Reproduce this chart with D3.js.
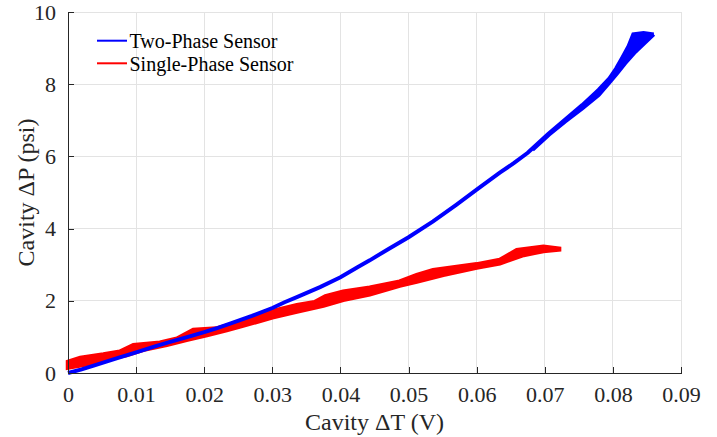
<!DOCTYPE html>
<html>
<head>
<meta charset="utf-8">
<script src="https://cdn.jsdelivr.net/npm/d3@7"></script>
<style>
  body { margin: 0; background: #fff; }
  text { font-family: "Liberation Serif", "Times New Roman", serif; }
</style>
</head>
<body>
<svg id="chart" width="717" height="437"></svg>
<script>
// Axis ticks
const xTicks = [0, 0.01, 0.02, 0.03, 0.04, 0.05, 0.06, 0.07, 0.08, 0.09];
const yTicks = [0, 2, 4, 6, 8, 10];
const xTickLabels = ["0", "0.01", "0.02", "0.03", "0.04", "0.05", "0.06", "0.07", "0.08", "0.09"];
const yTickLabels = ["0", "2", "4", "6", "8", "10"];

const seriesNames = ["Two-Phase Sensor", "Single-Phase Sensor"];
const seriesColors = ["#0000ff", "#ff0000"];

// Two-phase sensor: loading trace (cavity ΔT in V, cavity ΔP in psi)
const twoPhaseRiseDT = [0, 0.002, 0.004, 0.007, 0.010, 0.013, 0.015, 0.018, 0.020, 0.022, 0.024, 0.027, 0.030, 0.0318,
  0.0336, 0.037, 0.040, 0.0425, 0.0443, 0.047, 0.050, 0.0536, 0.057, 0.060, 0.0634, 0.0655, 0.0675,
  0.0705, 0.0730, 0.0755, 0.0779, 0.0795, 0.0805, 0.0814, 0.0823, 0.0830, 0.0845, 0.0860];
const twoPhaseRiseDP = [0.00, 0.10, 0.22, 0.40, 0.57, 0.75, 0.86, 1.02, 1.13, 1.25, 1.38, 1.58, 1.80, 1.96,
  2.10, 2.38, 2.65, 2.93, 3.12, 3.43, 3.76, 4.20, 4.66, 5.08, 5.55, 5.82, 6.10,
  6.62, 7.02, 7.42, 7.84, 8.16, 8.44, 8.74, 9.05, 9.38, 9.42, 9.38];
// Two-phase sensor: unloading trace back down from the peak
const twoPhaseFallDT = [0.0860, 0.0848, 0.0833, 0.0818, 0.0806, 0.0794, 0.0779, 0.0755, 0.0730, 0.0706, 0.0682];
const twoPhaseFallDP = [9.38, 9.17, 8.90, 8.58, 8.30, 8.03, 7.70, 7.33, 6.97, 6.60, 6.18];

// Single-phase sensor: upper and lower traces of the hysteresis band
const singlePhaseUpperDT = [0, 0.0018, 0.0052, 0.0076, 0.0096, 0.0135, 0.016, 0.0184, 0.0218, 0.0253, 0.030, 0.0336,
  0.0362, 0.0378, 0.0404, 0.0443, 0.0487, 0.0512, 0.0536, 0.060, 0.0634, 0.0659, 0.0698, 0.0721];
const singlePhaseUpperDP = [0.31, 0.42, 0.51, 0.59, 0.77, 0.84, 0.95, 1.19, 1.23, 1.42, 1.71, 1.88,
  1.96, 2.12, 2.25, 2.36, 2.53, 2.71, 2.85, 3.01, 3.13, 3.40, 3.50, 3.44];
const singlePhaseLowerDT = [0, 0.0027, 0.0062, 0.0086, 0.011, 0.0145, 0.0174, 0.0204, 0.0233, 0.0253, 0.030, 0.0336,
  0.0375, 0.0404, 0.0443, 0.0487, 0.0512, 0.0551, 0.060, 0.0634, 0.0669, 0.0698, 0.0721];
const singlePhaseLowerDP = [0.15, 0.24, 0.41, 0.50, 0.64, 0.78, 0.92, 1.05, 1.19, 1.29, 1.54, 1.70,
  1.87, 2.03, 2.18, 2.42, 2.53, 2.72, 2.92, 3.04, 3.27, 3.38, 3.42];

const zip = (xs, ys) => xs.map((x, i) => [x, ys[i]]);

const svg = d3.select("#chart");
const margin = { left: 68, top: 12, right: 36, bottom: 64 };
const W = 717, H = 437;
const x = d3.scaleLinear().domain([0, 0.09]).range([margin.left, W - margin.right]);
const y = d3.scaleLinear().domain([0, 10]).range([H - margin.bottom, margin.top]);

const axisColor = "#262626";
const gridColor = "#e3e3e3";

// Grid
const grid = svg.append("g").attr("shape-rendering", "crispEdges");
grid.selectAll("line.gx").data(xTicks).join("line")
  .attr("x1", d => x(d)).attr("x2", d => x(d))
  .attr("y1", y(0)).attr("y2", y(10))
  .attr("stroke", gridColor).attr("stroke-width", 1);
grid.selectAll("line.gy").data(yTicks).join("line")
  .attr("x1", x(0)).attr("x2", x(0.09))
  .attr("y1", d => y(d)).attr("y2", d => y(d))
  .attr("stroke", gridColor).attr("stroke-width", 1);

// Data
const line = d3.line().x(d => x(d[0])).y(d => y(d[1]));
const plot = svg.append("g");

// Single-phase band: upper trace out, lower trace back
const redPts = zip(singlePhaseUpperDT, singlePhaseUpperDP)
  .concat(zip(singlePhaseLowerDT, singlePhaseLowerDP).reverse());
plot.append("path")
  .attr("d", line(redPts) + "Z")
  .attr("fill", seriesColors[1])
  .attr("stroke", seriesColors[1])
  .attr("stroke-width", 4.5)
  .attr("stroke-linejoin", "miter");

// Two-phase traces
const rise = zip(twoPhaseRiseDT, twoPhaseRiseDP);
const fall = zip(twoPhaseFallDT, twoPhaseFallDP);
const wedge = rise.filter(d => d[0] >= 0.0675).concat(fall.slice(1));
plot.append("path")
  .attr("d", line(wedge) + "Z")
  .attr("fill", seriesColors[0]).attr("stroke", "none");
plot.append("path")
  .attr("d", line(rise))
  .attr("fill", "none").attr("stroke", seriesColors[0])
  .attr("stroke-width", 4).attr("stroke-linejoin", "miter");
plot.append("path")
  .attr("d", line(fall))
  .attr("fill", "none").attr("stroke", seriesColors[0])
  .attr("stroke-width", 4).attr("stroke-linejoin", "miter");

// Axes (ticks pointing inward)
const xAxis = d3.axisBottom(x).tickValues(xTicks)
  .tickFormat((d, i) => xTickLabels[i]).tickSizeInner(-6).tickSizeOuter(0).tickPadding(13);
const yAxis = d3.axisLeft(y).tickValues(yTicks)
  .tickFormat((d, i) => yTickLabels[i]).tickSizeInner(-6).tickSizeOuter(0).tickPadding(12);

const gx = svg.append("g").attr("transform", `translate(0,${y(0)})`).call(xAxis);
const gy = svg.append("g").attr("transform", `translate(${x(0)},0)`).call(yAxis);
[gx, gy].forEach(g => {
  g.attr("font-family", null);
  g.select(".domain").attr("stroke", axisColor).attr("shape-rendering", "crispEdges");
  g.selectAll(".tick line").attr("stroke", axisColor).attr("shape-rendering", "crispEdges");
  g.selectAll(".tick text")
    .attr("fill", axisColor)
    .style("font-family", '"Liberation Serif", "Times New Roman", serif')
    .style("font-size", "22px");
});

// Axis labels
svg.append("text")
  .attr("x", (x(0) + x(0.09)) / 2).attr("y", 430)
  .attr("text-anchor", "middle").attr("fill", axisColor)
  .style("font-size", "24px")
  .text("Cavity \u0394T (V)");
svg.append("text")
  .attr("transform", `translate(33.5,${(y(0) + y(10)) / 2}) rotate(-90)`)
  .attr("text-anchor", "middle").attr("fill", axisColor)
  .style("font-size", "24px")
  .text("Cavity \u0394P (psi)");

// Legend
const legend = svg.append("g");
seriesNames.forEach((name, i) => {
  const ly = 40.7 + i * 22.6;
  legend.append("line")
    .attr("x1", 97).attr("x2", 127).attr("y1", ly).attr("y2", ly)
    .attr("stroke", seriesColors[i]).attr("stroke-width", 2);
  legend.append("text")
    .attr("x", 129.5).attr("y", ly + 7.5)
    .attr("fill", "#000").style("font-size", "20px")
    .text(name);
});
</script>
</body>
</html>
